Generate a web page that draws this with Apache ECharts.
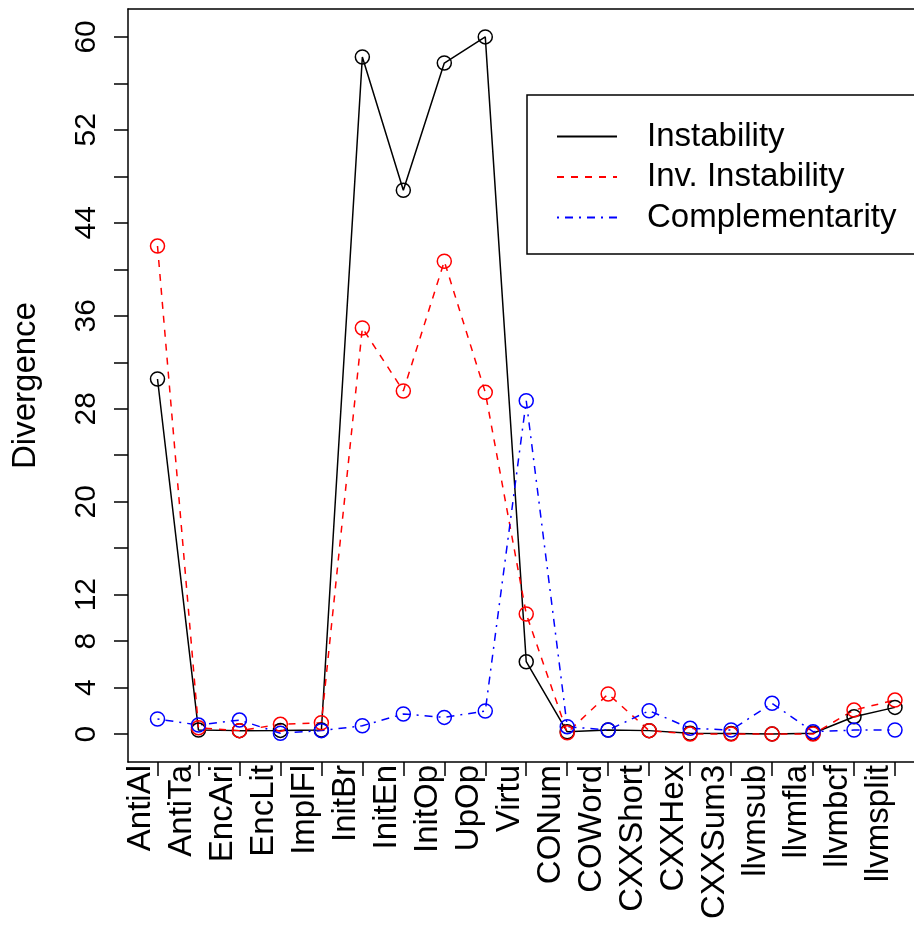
<!DOCTYPE html>
<html>
<head>
<meta charset="utf-8">
<script src="https://cdn.jsdelivr.net/npm/echarts@6/dist/echarts.min.js"></script>
<style>html,body{margin:0;padding:0;background:#fff;}#c{width:914px;height:925px;}</style>
</head>
<body>
<div id="c"></div>
<script>
var categories = ["AntiAl","AntiTa","EncAri","EncLit","ImplFl","InitBr","InitEn","InitOp","UpOp","Virtu","CONum","COWord","CXXShort","CXXHex","CXXSum3","llvmsub","llvmfla","llvmbcf","llvmsplit"];
var instability = [30.56,0.35,0.3,0.32,0.35,58.27,46.8,57.75,60.0,6.23,0.2,0.35,0.3,0.07,0.05,0.02,0.07,1.5,2.3];
var invInstability = [42.0,0.55,0.3,0.84,0.98,34.95,29.53,40.69,29.41,10.34,0.12,3.45,0.3,0.0,0.0,0.0,0.0,2.07,2.93];
var complementarity = [1.3,0.78,1.21,0.07,0.3,0.72,1.73,1.44,1.99,28.69,0.64,0.35,2.01,0.5,0.35,2.65,0.21,0.35,0.35];
var yTicks = [0,4,8,12,16,20,24,28,32,36,40,44,48,52,56,60];
var yLabels = [0,4,8,12,20,28,36,44,52,60];
var seriesNames = ["Instability","Inv. Instability","Complementarity"];

var xIdx = categories.map(function(_, i){ return i + 1; });
function pairs(arr){ return arr.map(function(v, i){ return [i + 1, v]; }); }

var FONT = "'Liberation Sans', Arial, Helvetica, sans-serif";
function mkSeries(name, data, color, type){
  return {
    name: name, type: 'line', data: pairs(data),
    symbol: 'circle', symbolSize: 14,
    lineStyle: {color: color, width: 1.5, type: type},
    itemStyle: {color: 'transparent', borderColor: color, borderWidth: 1.5},
    emphasis: {disabled: true},
    animation: false, z: 3
  };
}

var chart = echarts.init(document.getElementById('c'), null, {renderer: 'canvas'});
chart.setOption({
  backgroundColor: '#fff',
  animation: false,
  grid: {left: 128, top: 9, right: 0, height: 753, show: false, containLabel: false},
  xAxis: [{
    type: 'value', min: 0.28, max: 19.464, position: 'bottom',
    axisLine: {show: true, onZero: false, lineStyle: {color: '#000', width: 1.5}},
    axisTick: {show: true, customValues: xIdx, length: 14, lineStyle: {color: '#000', width: 1.5}},
    axisLabel: {
      customValues: xIdx, rotate: 90, margin: 3, fontSize: 33, color: '#000', fontFamily: FONT,
      verticalAlign: 'bottom', hideOverlap: false,
      formatter: function(v){ return categories[Math.round(v) - 1] || ''; }
    },
    splitLine: {show: false}
  }, {
    type: 'value', min: 0.28, max: 19.464, position: 'top',
    axisLine: {show: true, onZero: false, lineStyle: {color: '#000', width: 1.5}},
    axisTick: {show: false}, axisLabel: {show: false}, splitLine: {show: false}
  }],
  yAxis: {
    type: 'value', min: -2.4, max: 62.4,
    name: 'Divergence', nameLocation: 'middle', nameGap: 86, nameRotate: 90,
    nameTextStyle: {fontSize: 33, color: '#000', fontFamily: FONT},
    axisLine: {show: true, onZero: false, lineStyle: {color: '#000', width: 1.5}},
    axisTick: {show: true, customValues: yTicks, length: 14, lineStyle: {color: '#000', width: 1.5}},
    axisLabel: {customValues: yLabels, rotate: 90, margin: 26, fontSize: 30, color: '#000', fontFamily: FONT, hideOverlap: false},
    splitLine: {show: false}
  },
  legend: {
    orient: 'vertical', left: 527, top: 95,
    padding: [25, 80, 20, 29],
    itemWidth: 60, itemHeight: 30, itemGap: 7.5,
    borderColor: '#000', borderWidth: 1.5, backgroundColor: '#fff',
    itemStyle: {opacity: 0, borderWidth: 0, color: 'transparent'},
    textStyle: {fontSize: 33, lineHeight: 30, color: '#000', fontFamily: FONT, padding: [0, 0, 0, 25]},
    data: seriesNames
  },
  series: [
    mkSeries(seriesNames[0], instability, '#000000', 'solid'),
    mkSeries(seriesNames[1], invInstability, '#ff0000', [7, 7]),
    mkSeries(seriesNames[2], complementarity, '#0000ff', [2, 6, 8, 6])
  ]
});
</script>
</body>
</html>
